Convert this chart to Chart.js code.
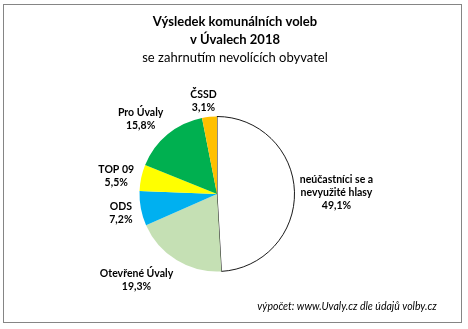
<!DOCTYPE html>
<html lang="cs">
<head>
<meta charset="utf-8">
<title>Výsledek komunálních voleb v Úvalech 2018</title>
<script src="https://cdn.jsdelivr.net/npm/chart.js@4/dist/chart.umd.min.js"></script>
<style>
  html, body { margin: 0; padding: 0; background: #fff; }
  canvas { display: block; }
</style>
</head>
<body>
<canvas id="vysledky" width="468" height="329"></canvas>
<script>
// Strany a podíly (v %) včetně nevolících obyvatel
const labels = ["neúčastníci se a nevyužité hlasy", "Otevřené Úvaly", "ODS", "TOP 09", "Pro Úvaly", "ČSSD"];
const shares = [49.1, 19.3, 7.2, 5.5, 15.8, 3.1];
const colors = ["#FFFFFF", "#C5E0B4", "#00B0F0", "#FFFF00", "#00B050", "#FFC000"];

// Popisky rozdělené do řádků (poslední řádek = procento)
const labelLines = [
    ["neúčastníci se a", "nevyužité hlasy"],
    ["Otevřené Úvaly"],
    ["ODS"],
    ["TOP 09"],
    ["Pro Úvaly"],
    ["ČSSD"]
];

// posun popisku od okraje výseče (dx, dy)
const labelNudge = [[42, 1], [-40, 20], [-20, 5], [-25, -2], [-27, -15], [-6, -16]];

const FONT = "Lato, 'Liberation Sans', sans-serif";

function formatPct(v) {
    return v.toFixed(1).replace(".", ",") + "%";
}

// Rámeček, nadpis a zdroj
const frameAndTexts = {
    id: "frameAndTexts",
    beforeDraw(chart) {
        const ctx = chart.ctx;
        ctx.save();
        ctx.fillStyle = "#fff";
        ctx.fillRect(0, 0, chart.width, chart.height);
        ctx.strokeStyle = "#858585";
        ctx.lineWidth = 1;
        ctx.strokeRect(3.5, 4.5, 458, 318);
        ctx.restore();
    },
    afterDraw(chart) {
        const ctx = chart.ctx;
        ctx.save();
        ctx.fillStyle = "#000";
        ctx.textAlign = "center";
        ctx.textBaseline = "middle";
        ctx.font = "bold 13px " + FONT;
        ctx.fillText("Výsledek komunálních voleb", 235, 22);
        ctx.fillText("v Úvalech 2018", 235, 40);
        ctx.font = "13px " + FONT;
        ctx.fillText("se zahrnutím nevolících obyvatel", 235, 58);
        ctx.font = "italic 10.5px " + FONT;
        ctx.fillText("výpočet: www.Uvaly.cz dle údajů volby.cz", 347, 307);
        ctx.restore();
    }
};

// Popisky výsečí vně koláče
const sliceLabels = {
    id: "sliceLabels",
    afterDatasetsDraw(chart) {
        const ctx = chart.ctx;
        const meta = chart.getDatasetMeta(0);
        ctx.save();
        ctx.fillStyle = "#000";
        ctx.textAlign = "center";
        ctx.textBaseline = "middle";
        ctx.font = "bold 10.5px " + FONT;
        const lh = 13;
        meta.data.forEach((arc, i) => {
            const p = arc.getProps(["x", "y", "startAngle", "endAngle", "outerRadius"], true);
            const mid = (p.startAngle + p.endAngle) / 2;
            const ex = p.x + Math.cos(mid) * p.outerRadius;
            const ey = p.y + Math.sin(mid) * p.outerRadius;
            const lines = labelLines[i].concat([formatPct(shares[i])]);
            const cx = ex + labelNudge[i][0];
            const cy = ey + labelNudge[i][1];
            const top = cy - (lines.length - 1) * lh / 2;
            lines.forEach((t, k) => ctx.fillText(t, cx, top + k * lh));
        });
        ctx.restore();
    }
};

new Chart(document.getElementById("vysledky"), {
    type: "pie",
    data: {
        labels: labels,
        datasets: [{
            data: shares,
            backgroundColor: colors,
            borderColor: ["#1a1a1a", "#fff", "#fff", "#fff", "#fff", "#fff"],
            borderWidth: [1, 0, 0, 0, 0, 0]
        }]
    },
    options: {
        responsive: false,
        animation: false,
        layout: { padding: { left: 139, right: 173, top: 116, bottom: 57 } },
        plugins: {
            legend: { display: false },
            title: { display: false },
            tooltip: { enabled: false }
        }
    },
    plugins: [frameAndTexts, sliceLabels]
});
</script>
</body>
</html>
